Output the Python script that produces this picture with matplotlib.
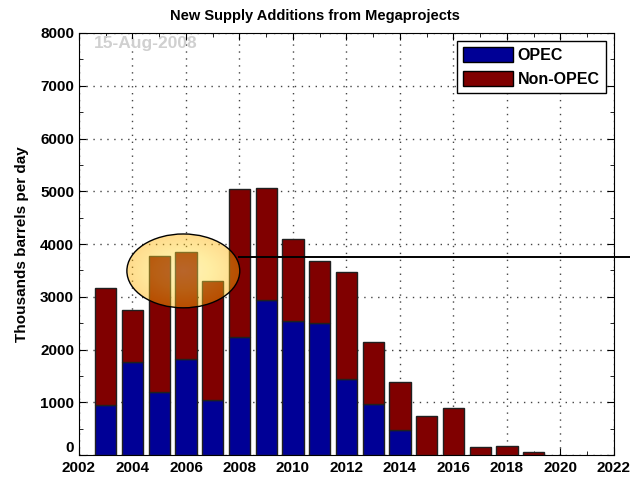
import numpy as np
import matplotlib
matplotlib.use('Agg')
import matplotlib.pyplot as plt
from matplotlib.patches import Ellipse, Patch
from matplotlib.colors import LinearSegmentedColormap

years = [2003, 2004, 2005, 2006, 2007, 2008, 2009, 2010, 2011, 2012,
         2013, 2014, 2015, 2016, 2017, 2018, 2019]
opec = [950, 1765, 1190, 1820, 1045, 2235, 2940, 2540, 2495, 1440,
        967, 474, 0, 0, 0, 0, 0]
total = [3170, 2750, 3780, 3850, 3300, 5040, 5065, 4100, 3670, 3470,
         2142, 1385, 740, 897, 155, 180, 63]
non_opec = [t - o for t, o in zip(total, opec)]
threshold = 3760

plt.rcParams['font.family'] = ['Liberation Sans', 'DejaVu Sans']
plt.rcParams['font.weight'] = 'bold'

fig = plt.figure(figsize=(6.3, 4.79), dpi=100)
ax = fig.add_axes([79/630, 24/479, 535/630, 422/479])

ax.bar(years, opec, width=0.8, color='#000096', edgecolor='#202020', linewidth=1, zorder=3)
ax.bar(years, non_opec, bottom=opec, width=0.8, color='#800000', edgecolor='#202020', linewidth=1, zorder=3)

ax.set_xlim(2002, 2022)
ax.set_ylim(0, 8000)
ax.set_xticks(range(2002, 2023, 2))
ax.set_xticks(range(2003, 2022, 2), minor=True)
ax.set_yticks(range(0, 8001, 1000))
ax.set_yticks(range(500, 8000, 1000), minor=True)
ax.tick_params(which='both', direction='in', top=True, right=True, labelsize=11)
ax.tick_params(which='major', length=5)
ax.tick_params(which='minor', length=3)
ax.tick_params(axis='x', pad=4)
for lab in ax.get_xticklabels() + ax.get_yticklabels():
    lab.set_fontweight('bold')
# bottom y label sits on the axis, like matlab
ax.yaxis.get_major_ticks()[0].label1.set_verticalalignment('bottom')
ax.grid(True, which='major', linestyle=(0, (1, 4)), color='#444444', linewidth=1, zorder=0)
ax.set_axisbelow(True)

fig.text(0.5, 1 - 16/479, 'New Supply Additions from Megaprojects', ha='center', va='center',
         fontsize=10.5, fontweight='bold')
ax.set_ylabel('Thousands barrels per day', fontsize=11, fontweight='bold', labelpad=8)

# highlighted ellipse
cx, cy, w, h = 2005.9, 3490, 4.22, 1400
ell = Ellipse((cx, cy), w, h, facecolor='none', edgecolor='black', linewidth=1, zorder=6)
ax.add_patch(ell)
gx, gy = np.meshgrid(np.linspace(-1, 1, 200), np.linspace(-1, 1, 200))
r = np.sqrt(gx**2 + gy**2)
cmap = LinearSegmentedColormap.from_list('glow', ['#ffe460', '#ffd830', '#ffb000'])
im = ax.imshow(r, cmap=cmap, vmin=0, vmax=1, extent=[cx - w/2, cx + w/2, cy - h/2, cy + h/2],
               aspect='auto', alpha=0.45, zorder=5, interpolation='bilinear')
im.set_clip_path(ell)

ax.plot([2008.0, 2022.65], [threshold, threshold], color='black', linewidth=1.4, zorder=7, clip_on=False)

ax.text(2002.55, 7720, '15-Aug-2008', color='#d0d0d0', fontsize=12.5, fontweight='bold', zorder=2)

handles = [Patch(facecolor='#000096', edgecolor='black'), Patch(facecolor='#800000', edgecolor='black')]
leg = ax.legend(handles, ['OPEC', 'Non-OPEC'], loc='upper right', fancybox=False, framealpha=1,
                edgecolor='black', fontsize=11.5, handlelength=3.1, handleheight=1.05,
                borderaxespad=0.5, handletextpad=0.3, labelspacing=0.5, borderpad=0.4)
leg.get_frame().set_linewidth(1)
for t in leg.get_texts():
    t.set_fontweight('bold')

fig.savefig('out.png', dpi=100, facecolor='white')
